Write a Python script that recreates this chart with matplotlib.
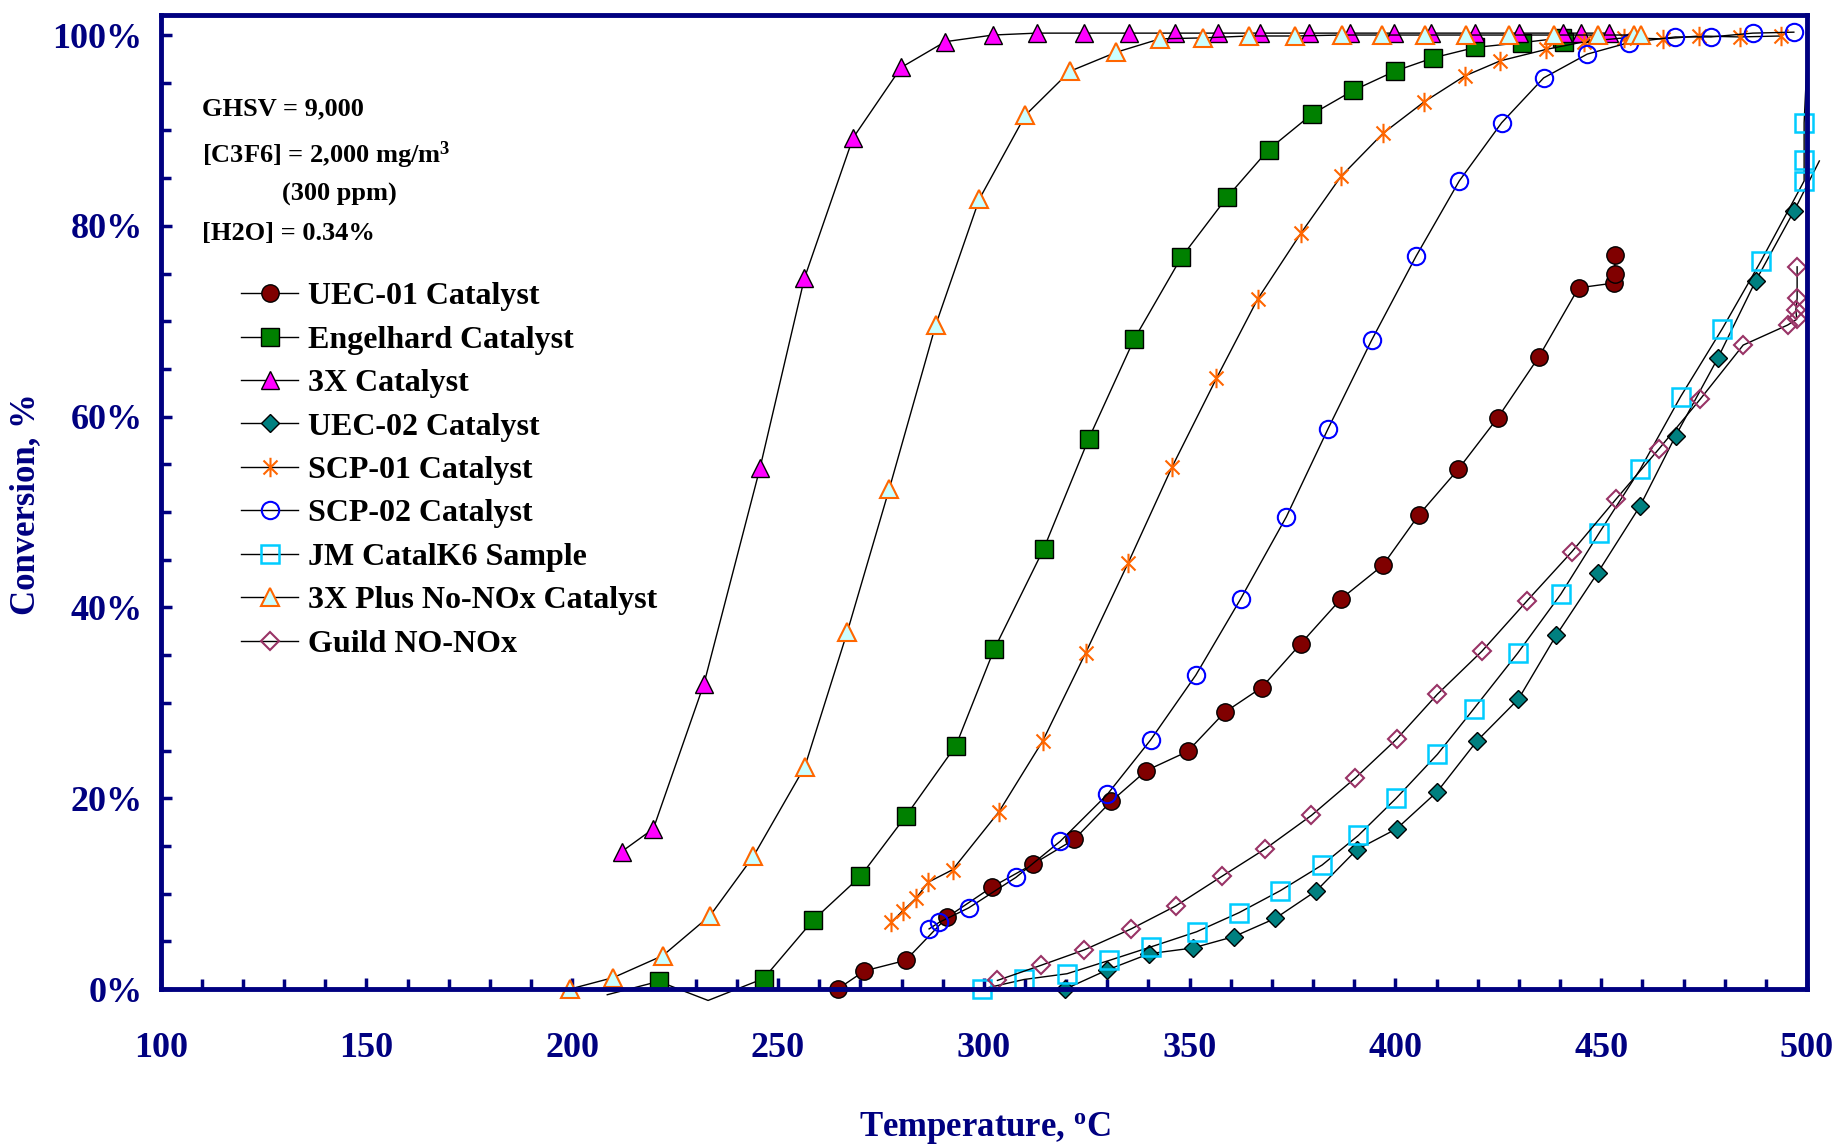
import numpy as np
import matplotlib
matplotlib.use("Agg")
import matplotlib.pyplot as plt
from matplotlib.path import Path
from matplotlib.ticker import MultipleLocator

plt.rcParams['font.family'] = ['Liberation Serif', 'DejaVu Serif']
plt.rcParams['font.weight'] = 'bold'
plt.rcParams['mathtext.fontset'] = 'custom'
plt.rcParams['mathtext.rm'] = 'Liberation Serif:bold'
plt.rcParams['mathtext.bf'] = 'Liberation Serif:bold'
plt.rcParams['mathtext.it'] = 'Liberation Serif:bold:italic'

# ---------------- data ----------------
uec01_x = [264.5, 271, 281, 291, 302, 312, 322, 331, 339.5, 349.5, 358.5, 367.5, 377, 386.8, 396.9, 405.7, 415.3, 424.9, 434.9, 444.5, 453.1, 453.3, 453.3]
uec01_y = [0, 1.9, 3.0, 7.5, 10.7, 13.1, 15.7, 19.7, 22.9, 24.9, 29.0, 31.6, 36.2, 40.9, 44.4, 49.7, 54.5, 59.9, 66.3, 73.5, 74.0, 74.9, 76.9]

eng_x = [208.5, 221, 233, 246.5, 258.5, 270, 281, 293.2, 302.5, 314.5, 325.5, 336.5, 348, 359.1, 369.2, 379.7, 389.8, 399.8, 409.1, 419.4, 430.7, 440.5, 441]
eng_y = [-0.6, 0.8, -1.2, 1.1, 7.2, 11.8, 18.1, 25.5, 35.6, 46.1, 57.7, 68.1, 76.7, 83.0, 88.0, 91.7, 94.2, 96.2, 97.6, 98.7, 99.2, 99.7, 99.3]

x3_x = [212, 219.7, 232, 245.6, 256.4, 268.2, 279.9, 290.6, 302.2, 312.8, 324.3, 335.2, 346.5, 357, 367, 378.9, 389, 399.7, 408.6, 419.4, 430, 440.8, 445.1, 452]
x3_y = [14.4, 16.8, 32.0, 54.6, 74.5, 89.2, 96.6, 99.3, 100, 100.2, 100.2, 100.2, 100.2, 100.2, 100.2, 100.2, 100.2, 100.2, 100.2, 100.2, 100.2, 100.2, 100.2, 100.2]

uec02_x = [319.8, 330, 340.2, 350.8, 360.8, 370.8, 380.8, 390.6, 400.3, 410.2, 419.8, 429.9, 439.1, 449.1, 459.4, 468.1, 478.3, 487.5, 496.9, 503]
uec02_y = [0, 2.0, 3.7, 4.3, 5.5, 7.4, 10.3, 14.6, 16.8, 20.7, 26.0, 30.4, 37.1, 43.6, 50.6, 58.0, 66.1, 74.2, 81.6, 86.8]

scp01_x = [277.5, 280.3, 283.5, 286.5, 292.4, 303.7, 314.3, 324.7, 335.1, 345.7, 356.5, 366.5, 377.0, 386.8, 397.0, 407.0, 416.8, 425.5, 436.7, 445.9, 455.5, 465.1, 473.8, 483.7, 493.7]
scp01_y = [7.0, 8.2, 9.5, 11.2, 12.5, 18.6, 26.0, 35.2, 44.7, 54.7, 64.0, 72.3, 79.2, 85.2, 89.7, 93.0, 95.7, 97.3, 98.5, 99.3, 99.7, 99.6, 99.9, 99.8, 99.9]

scp02_x = [286.7, 289.2, 296.3, 307.8, 318.6, 330, 340.5, 351.5, 362.4, 373.5, 383.6, 394.2, 405.0, 415.5, 425.8, 436.0, 446.6, 456.7, 468.0, 476.7, 486.8, 496.8]
scp02_y = [6.3, 7.0, 8.5, 11.7, 15.5, 20.4, 26.1, 32.9, 40.9, 49.5, 58.7, 68.0, 76.8, 84.7, 90.8, 95.5, 98.0, 99.2, 99.8, 99.8, 100.2, 100.3]

jm_x = [299.6, 309.8, 320.2, 330.5, 340.5, 351.7, 362, 372, 382.2, 391, 400.2, 410.2, 419.1, 429.7, 440.2, 449.5, 459.5, 469.3, 479.4, 488.8, 499.3, 499.3, 499.3, 500.2]
jm_y = [0, 1.0, 1.6, 3.0, 4.4, 6.0, 8.0, 10.3, 13.0, 16.1, 20.0, 24.6, 29.4, 35.2, 41.4, 47.8, 54.5, 62.1, 69.2, 76.3, 84.7, 86.9, 90.8, 99.0]

x3p_x = [199.5, 210, 222, 233.5, 244, 256.5, 266.8, 277, 288.3, 298.9, 310.1, 320.9, 332.2, 342.8, 353.2, 364.4, 375.6, 386.9, 396.7, 407.3, 417.1, 427.5, 438.5, 449.1, 457.9, 459.7]
x3p_y = [0, 1.2, 3.5, 7.7, 13.9, 23.3, 37.4, 52.4, 69.6, 82.8, 91.6, 96.2, 98.2, 99.6, 99.7, 99.9, 99.9, 100, 100, 100, 100, 100, 100, 100, 100, 100]

guild_x = [303.3, 314, 324.4, 335.8, 346.6, 357.8, 368.4, 379.6, 390.2, 400.3, 410.2, 421, 432, 442.8, 453.7, 464, 474, 484.5, 495.3, 497.5, 497.3, 497.6, 497.6]
guild_y = [0.9, 2.5, 4.1, 6.3, 8.7, 11.8, 14.7, 18.2, 22.1, 26.2, 30.9, 35.4, 40.7, 45.8, 51.4, 56.6, 61.8, 67.5, 69.6, 70.2, 71.2, 72.4, 75.7]

labels = ["UEC-01 Catalyst", "Engelhard Catalyst", "3X Catalyst", "UEC-02 Catalyst",
          "SCP-01 Catalyst", "SCP-02 Catalyst", "JM CatalK6 Sample",
          "3X Plus No-NOx Catalyst", "Guild NO-NOx"]

xticks = [100, 150, 200, 250, 300, 350, 400, 450, 500]
xtick_labels = ["100", "150", "200", "250", "300", "350", "400", "450", "500"]
yticks = [0, 20, 40, 60, 80, 100]
ytick_labels = ["0%", "20%", "40%", "60%", "80%", "100%"]

notes = ["GHSV = 9,000", "[C3F6] = 2,000 mg/m$^{3}$", "(300 ppm)", "[H2O] = 0.34%"]

# ---------------- style ----------------
NAVY = '#000080'
W, H = 1839, 1145
asterisk = Path([(0, -1), (0, 1), (-0.72, -0.72), (0.72, 0.72), (-0.72, 0.72), (0.72, -0.72)],
                [Path.MOVETO, Path.LINETO, Path.MOVETO, Path.LINETO, Path.MOVETO, Path.LINETO])

styles = [
    dict(marker='o', ms=12.5, mfc='#800000', mec='black', mew=1.0),
    dict(marker='s', ms=12.5, mfc='#008000', mec='black', mew=1.0),
    dict(marker='^', ms=13, mfc='#FF00FF', mec='black', mew=1.0),
    dict(marker='D', ms=9.3, mfc='#008080', mec='black', mew=1.0),
    dict(marker=asterisk, ms=14, mfc='none', mec='#FF6600', mew=1.5),
    dict(marker='o', ms=12.5, mfc='none', mec='#0000FF', mew=1.5),
    dict(marker='s', ms=12.5, mfc='none', mec='#00CCFF', mew=1.8),
    dict(marker='^', ms=13, mfc='#CCFFFF', mec='#FF6600', mew=1.5),
    dict(marker='D', ms=9.3, mfc='none', mec='#993366', mew=1.5),
]

series = [(uec01_x, uec01_y), (eng_x, eng_y), (x3_x, x3_y), (uec02_x, uec02_y),
          (scp01_x, scp01_y), (scp02_x, scp02_y), (jm_x, jm_y), (x3p_x, x3p_y),
          (guild_x, guild_y)]

fig = plt.figure(figsize=(W / 100, H / 100), dpi=100)
ax = fig.add_axes([160.7 / W, 1 - 989 / H, (1807 - 160.7) / W, (989 - 15) / H])
ax.set_xlim(100, 500)
ax.set_ylim(0, 102.1)

handles = []
for (xs, ys), st, lab in zip(series, styles, labels):
    xs = np.asarray(xs); ys = np.asarray(ys)
    inside = (xs >= 100) & (xs <= 500) & (ys >= 0)
    ln, = ax.plot(xs, ys, color='black', lw=1.0, markevery=list(inside), clip_on=False,
                  label=lab, **st)
    handles.append(ln)

for s in ax.spines.values():
    s.set_color(NAVY)
    s.set_linewidth(3.5)
ax.set_xticks(xticks)
ax.set_xticklabels(xtick_labels)
ax.set_yticks(yticks)
ax.set_yticklabels(ytick_labels)
ax.xaxis.set_minor_locator(MultipleLocator(10))
ax.yaxis.set_minor_locator(MultipleLocator(5))
ax.tick_params(which='both', direction='in', color=NAVY, width=2.5, top=False, right=False)
ax.tick_params(which='major', length=8)
ax.tick_params(which='minor', length=7)
ax.tick_params(axis='x', which='major', pad=31, labelsize=26, labelcolor=NAVY)
ax.tick_params(axis='y', which='major', pad=13, labelsize=26, labelcolor=NAVY)
for t in ax.get_xticklabels() + ax.get_yticklabels():
    t.set_fontweight('bold')

fig.text(26 / W, 1 - 504 / H, "Conversion, %", rotation=90, ha='center', va='center',
         fontsize=25, fontweight='bold', color=NAVY)
fig.text(985 / W, 1 - 1136 / H, "Temperature, $^{\\mathrm{o}}$C", ha='center', va='baseline',
         fontsize=25, fontweight='bold', color=NAVY)

note_pos = [(202, 115), (202, 163), (282, 201), (202, 240)]
for txt, (px, py) in zip(notes, note_pos):
    fig.text(px / W, 1 - py / H, txt, ha='left', va='baseline', fontsize=19,
             fontweight='bold', color='black')

leg = ax.legend(handles=handles, loc='upper left', bbox_to_anchor=(241 / W, 1 - 282 / H),
                bbox_transform=fig.transFigure, frameon=False, fontsize=23,
                handlelength=1.79, handletextpad=0.31, labelspacing=0.44,
                borderpad=0, borderaxespad=0, numpoints=1)
for t in leg.get_texts():
    t.set_fontweight('bold')

fig.savefig("out.png", dpi=100)
